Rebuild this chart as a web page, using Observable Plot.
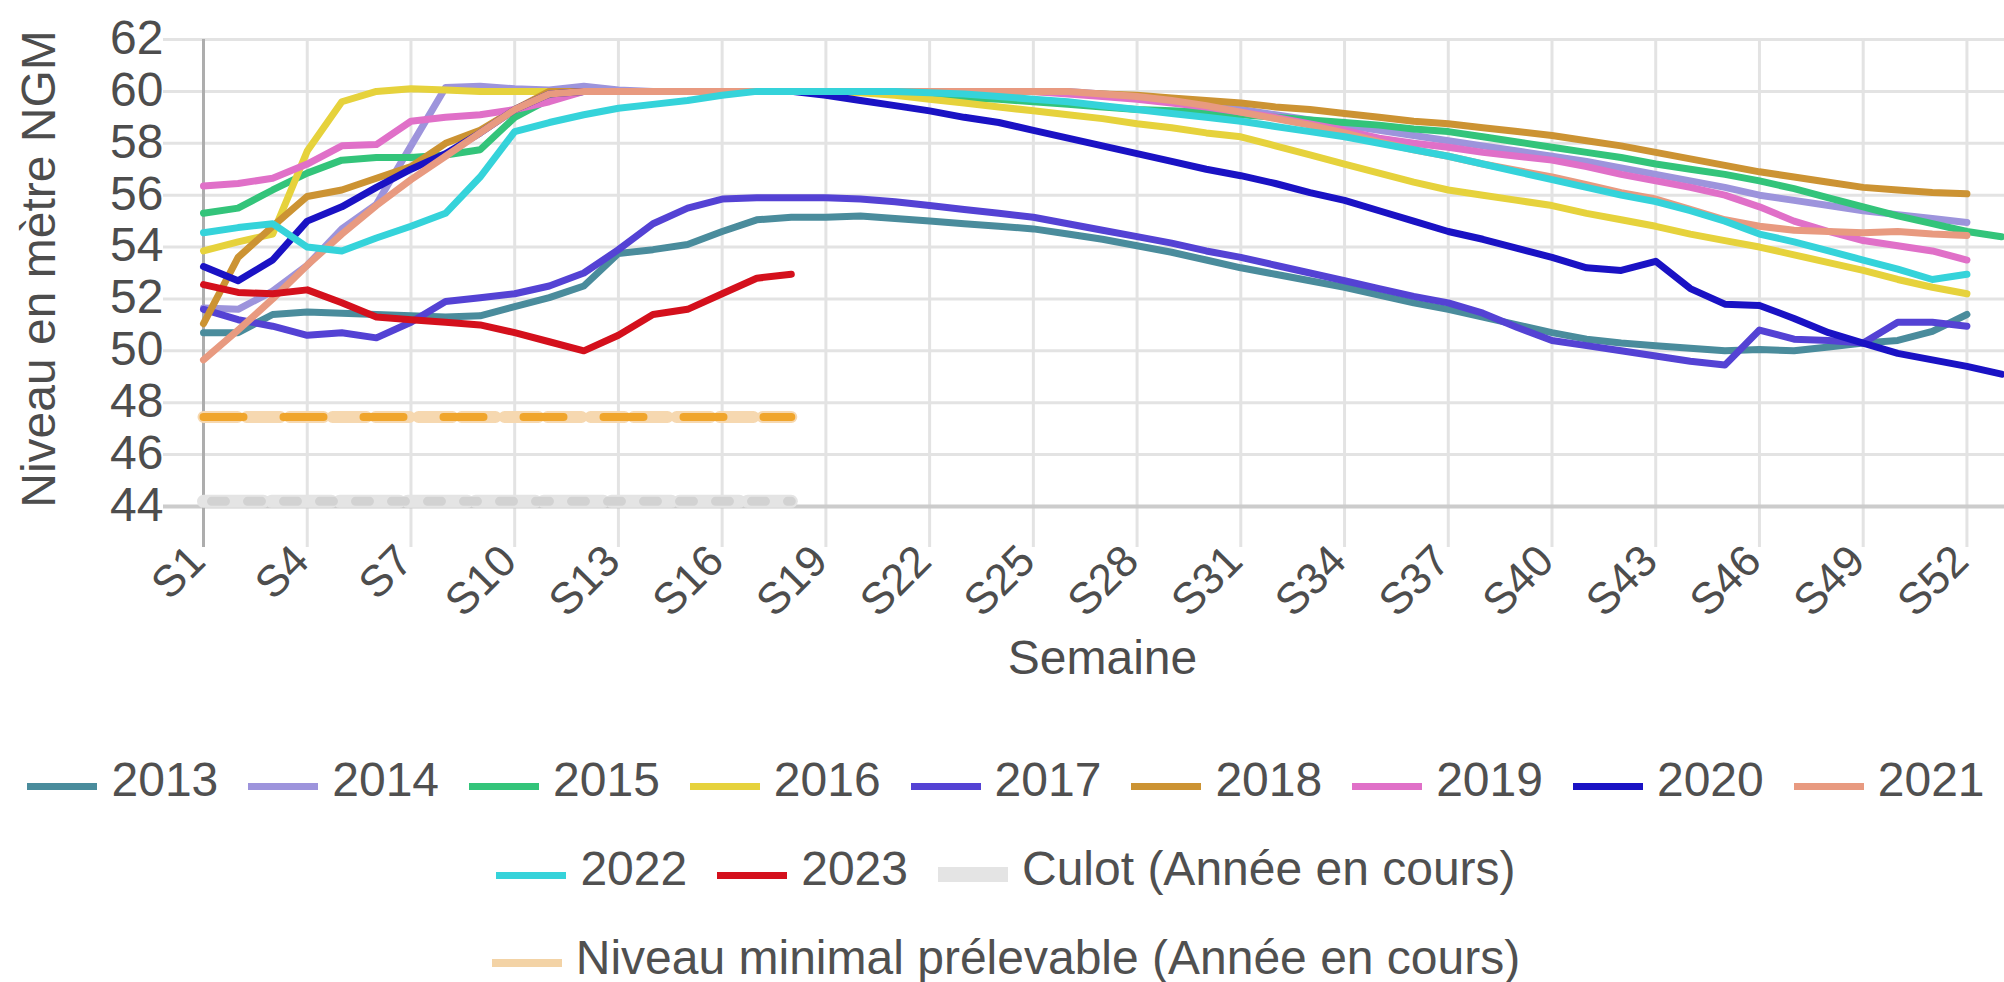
<!DOCTYPE html>
<html><head><meta charset="utf-8">
<script src="https://cdn.jsdelivr.net/npm/d3@7"></script>
<script src="https://cdn.jsdelivr.net/npm/@observablehq/plot@0.6"></script>
<style>
html,body{margin:0;padding:0;background:#fff;overflow:hidden;}
body{font-family:"Liberation Sans",Arial,sans-serif;width:2004px;height:982px;}
#chart svg{display:block;}
#legend{width:2004px;padding-top:15px;color:#505050;font-size:48px;}
.row{display:flex;justify-content:center;height:89px;align-items:center;padding-left:8px;}
.item{display:flex;align-items:center;margin:0 15px;white-space:nowrap;}
.sw{display:inline-block;width:70px;height:7px;margin-right:14px;position:relative;top:7px;}
</style></head><body>
<div id="chart"></div><div id="legend"></div>
<script>
// ---- data ----
const weekTicks = [1,4,7,10,13,16,19,22,25,28,31,34,37,40,43,46,49,52];
const yTicks = [44,46,48,50,52,54,56,58,60,62];
const years = ["2013","2014","2015","2016","2017","2018","2019","2020","2021","2022","2023"];
const colors = ["#4a8c9c","#9d94dc","#33c47a","#e6d23c","#5442d4","#cc9333","#e070c8","#1a12c4","#e89a80","#35d3da","#d4101c"];

const v2013 = [50.7,50.7,51.4,51.5,51.45,51.4,51.35,51.3,51.35,51.7,52.05,52.5,53.75,53.9,54.1,54.6,55.05,55.15,55.15,55.2,55.1,55.0,54.9,54.8,54.7,54.5,54.3,54.05,53.8,53.5,53.2,52.95,52.7,52.45,52.15,51.85,51.6,51.3,51.0,50.7,50.45,50.3,50.2,50.1,50.0,50.05,50.0,50.15,50.3,50.4,50.75,51.4];
const v2014 = [51.65,51.6,52.3,53.3,54.7,55.65,57.9,60.15,60.2,60.1,60.05,60.2,60.05,60.0,60.0,60.0,60.0,60.0,60.0,60.0,60.0,60.0,60.0,60.0,60.0,60.0,59.9,59.8,59.7,59.5,59.3,59.1,58.9,58.7,58.5,58.3,58.1,57.9,57.7,57.5,57.3,57.05,56.8,56.55,56.3,56.0,55.8,55.6,55.4,55.25,55.1,54.95];
const v2015 = [55.3,55.5,56.2,56.85,57.35,57.45,57.45,57.55,57.75,59.0,59.7,60.0,60.0,60.0,60.0,60.0,60.0,60.0,60.0,60.0,59.9,59.8,59.75,59.7,59.6,59.5,59.4,59.3,59.25,59.2,59.1,59.0,58.9,58.8,58.7,58.55,58.45,58.25,58.05,57.85,57.65,57.45,57.2,57.0,56.8,56.55,56.25,55.9,55.55,55.2,54.9,54.6,54.4];
const v2016 = [53.85,54.2,54.5,57.7,59.6,60.0,60.1,60.05,60.0,60.0,60.0,60.0,60.0,60.0,60.0,60.0,60.0,60.0,60.0,59.95,59.85,59.7,59.55,59.4,59.25,59.1,58.95,58.75,58.6,58.4,58.25,57.9,57.55,57.2,56.85,56.5,56.2,56.0,55.8,55.6,55.3,55.05,54.8,54.5,54.25,54.0,53.7,53.4,53.1,52.75,52.45,52.2];
const v2017 = [51.6,51.2,50.95,50.6,50.7,50.5,51.1,51.9,52.05,52.2,52.5,53.0,53.9,54.9,55.5,55.85,55.9,55.9,55.9,55.85,55.75,55.6,55.45,55.3,55.15,54.9,54.65,54.4,54.15,53.85,53.6,53.3,53.0,52.7,52.4,52.1,51.85,51.45,50.9,50.4,50.2,50.0,49.8,49.6,49.45,50.8,50.45,50.4,50.3,51.1,51.1,50.95];
const v2018 = [51.05,53.6,54.8,55.95,56.2,56.65,57.1,58.0,58.5,59.3,60.0,60.0,60.0,60.0,60.0,60.0,60.0,60.0,60.0,60.0,60.0,60.0,60.0,60.0,60.0,59.95,59.9,59.85,59.75,59.65,59.55,59.4,59.3,59.15,59.0,58.85,58.75,58.6,58.45,58.3,58.1,57.9,57.65,57.4,57.15,56.9,56.7,56.5,56.3,56.2,56.1,56.05];
const v2019 = [56.35,56.45,56.65,57.2,57.9,57.95,58.85,59.0,59.1,59.3,59.6,60.0,60.0,60.0,60.0,60.0,60.0,60.0,60.0,60.0,60.0,60.0,60.0,60.0,60.0,59.9,59.8,59.7,59.55,59.4,59.2,59.0,58.75,58.5,58.2,58.0,57.85,57.65,57.5,57.35,57.1,56.8,56.55,56.3,56.0,55.55,55.0,54.6,54.25,54.05,53.85,53.5];
const v2020 = [53.25,52.7,53.5,55.0,55.55,56.3,57.0,57.6,58.4,59.3,59.9,60.0,60.0,60.0,60.0,60.0,60.0,60.0,59.85,59.65,59.45,59.25,59.0,58.8,58.5,58.2,57.9,57.6,57.3,57.0,56.75,56.45,56.1,55.8,55.4,55.0,54.6,54.3,53.95,53.6,53.2,53.1,53.45,52.4,51.8,51.75,51.25,50.7,50.3,49.9,49.65,49.4,49.1];
const v2021 = [49.65,50.8,52.0,53.3,54.5,55.6,56.6,57.5,58.4,59.3,59.9,60.0,60.0,60.0,60.0,60.0,60.0,60.0,60.0,60.0,60.0,60.0,60.0,60.0,60.0,60.0,59.9,59.8,59.65,59.45,59.2,58.95,58.7,58.4,58.05,57.75,57.5,57.2,56.95,56.7,56.4,56.1,55.85,55.45,55.05,54.8,54.65,54.6,54.55,54.6,54.5,54.45];
const v2022 = [54.55,54.75,54.9,54.0,53.85,54.35,54.8,55.3,56.7,58.45,58.8,59.1,59.35,59.5,59.65,59.85,60.0,60.0,60.0,60.0,60.0,59.95,59.9,59.8,59.7,59.6,59.45,59.3,59.15,59.0,58.85,58.65,58.45,58.25,58.0,57.75,57.5,57.2,56.9,56.6,56.3,56.0,55.75,55.4,55.0,54.5,54.2,53.85,53.5,53.15,52.75,52.95];
const v2023 = [52.55,52.25,52.2,52.35,51.85,51.3,51.2,51.1,51.0,50.7,50.35,50.0,50.6,51.4,51.6,52.2,52.8,52.95];

const culotLevel = 44.2;
const minLevel = 47.45;
const refWeeks = [1, 18];

// ---- build tables ----
const seriesList = [v2013,v2014,v2015,v2016,v2017,v2018,v2019,v2020,v2021,v2022,v2023];
const rows = [];
seriesList.forEach((arr, i) => arr.forEach((v, j) => rows.push({year: years[i], week: j + 1, value: v})));
const culotRows = refWeeks.map(w => ({week: w, value: culotLevel}));
const minRows = refWeeks.map(w => ({week: w, value: minLevel}));

const textColor = "#4d4d4d";
const chart = Plot.plot({
  width: 2004,
  height: 720,
  marginLeft: 203,
  marginRight: 3,
  marginTop: 39,
  marginBottom: 214,
  style: {fontFamily: "Liberation Sans, Arial, sans-serif", fontSize: "48px", color: textColor, background: "#fff"},
  x: {type: "linear", domain: [1, 53], axis: null},
  y: {domain: [44, 62], axis: null},
  color: {domain: years, range: colors},
  marks: [
    Plot.gridY(yTicks.filter(d => d !== 44), {stroke: "#e3e3e3", strokeOpacity: 1, strokeWidth: 3, insetLeft: -40, insetRight: -3}),
    Plot.gridX(weekTicks.filter(d => d !== 1), {stroke: "#e3e3e3", strokeOpacity: 1, strokeWidth: 3, insetBottom: -41}),
    Plot.ruleY([44], {stroke: "#cccccc", strokeWidth: 4, insetLeft: -40, insetRight: -3}),
    Plot.ruleX([1], {stroke: "#adadad", strokeWidth: 3, insetBottom: -41}),
    Plot.axisY(yTicks, {tickSize: 0, tickPadding: 40, fontSize: 48, dy: -1, label: null, fill: textColor}),
    Plot.text(weekTicks, {x: d => d, text: d => "S" + d, frameAnchor: "bottom", dx: 4, dy: 57, rotate: -45, textAnchor: "end", lineAnchor: "bottom", fontSize: 44, fill: textColor}),
    Plot.text(["Semaine"], {frameAnchor: "bottom", dy: 167, fontSize: 48, fill: textColor}),
    Plot.text(["Niveau en mètre NGM"], {frameAnchor: "left", rotate: -90, dx: -164, dy: -4, textAnchor: "middle", lineAnchor: "middle", fontSize: 48, fill: textColor}),
    // reference lines
    Plot.line(culotRows, {x: "week", y: "value", stroke: "#e4e4e4", strokeWidth: 13, strokeDasharray: "60,8"}),
    Plot.line(culotRows, {x: "week", y: "value", stroke: "#d2d2d2", strokeWidth: 9, strokeDasharray: "14,22", strokeDashoffset: -8}),
    Plot.line(minRows, {x: "week", y: "value", stroke: "#f6d8b0", strokeWidth: 12, strokeDasharray: "34,9"}),
    Plot.line(minRows, {x: "week", y: "value", stroke: "#f0a52c", strokeWidth: 8, strokeDasharray: "40,40"}),
    // yearly series
    Plot.line(rows, {x: "week", y: "value", z: "year", stroke: "year", strokeWidth: 7, strokeLinejoin: "round", strokeLinecap: "round"})
  ]
});
document.getElementById("chart").appendChild(chart);

// ---- legend ----
const legendRows = [
  years.slice(0, 9).map((y, i) => ({label: y, color: colors[i], h: 7, top: 7})),
  [{label: years[9], color: colors[9], h: 7, top: 7}, {label: years[10], color: colors[10], h: 7, top: 7},
   {label: "Culot (Année en cours)", color: "#e4e4e4", h: 15, top: 6}],
  [{label: "Niveau minimal prélevable (Année en cours)", color: "#f3d3a6", h: 8, top: 5}]
];
const legend = document.getElementById("legend");
legendRows.forEach(r => {
  const row = document.createElement("div");
  row.className = "row";
  r.forEach(it => {
    const item = document.createElement("div");
    item.className = "item";
    const sw = document.createElement("span");
    sw.className = "sw";
    sw.style.background = it.color;
    sw.style.height = it.h + "px";
    sw.style.top = it.top + "px";
    item.appendChild(sw);
    const t = document.createElement("span");
    t.textContent = it.label;
    item.appendChild(t);
    row.appendChild(item);
  });
  legend.appendChild(row);
});
</script></body></html>
